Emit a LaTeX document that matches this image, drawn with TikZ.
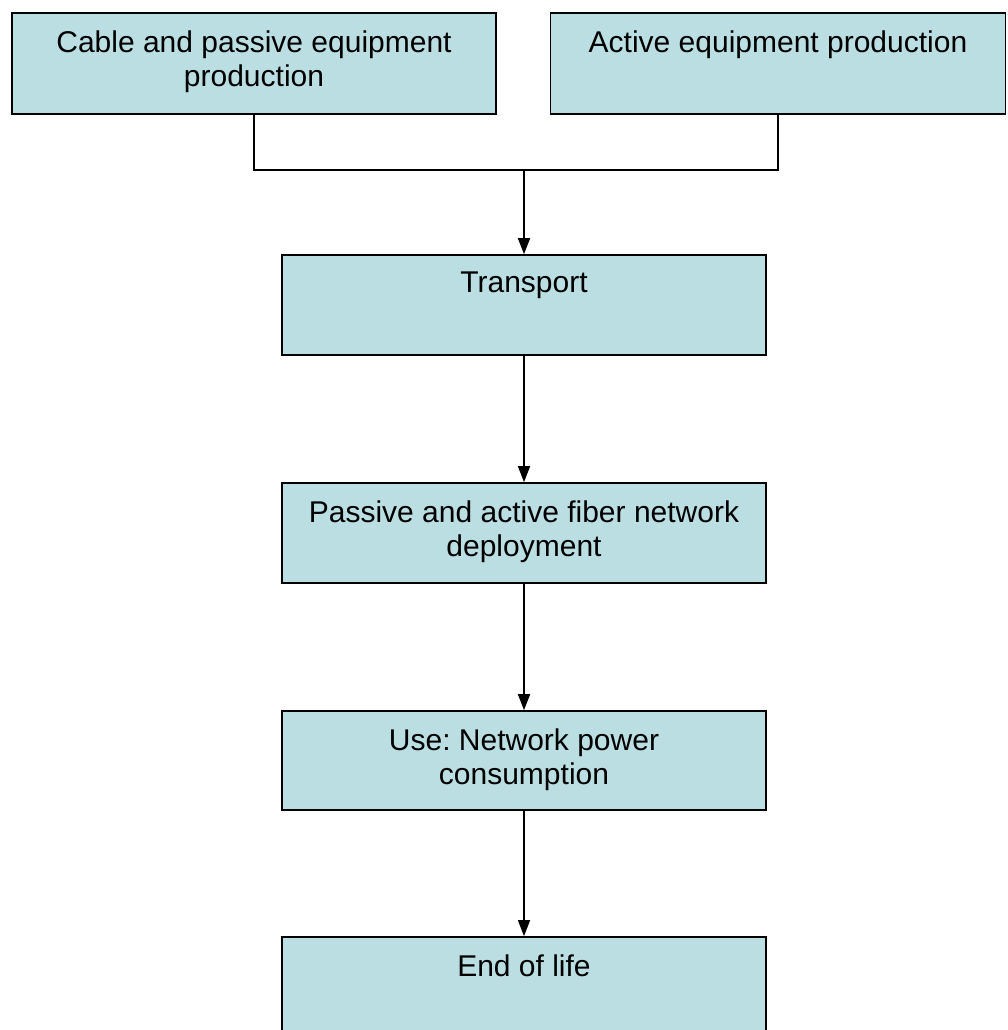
\documentclass[tikz,border=0pt]{standalone}
\usepackage{fontspec}
\setmainfont{Liberation Sans}
\usetikzlibrary{arrows.meta}
\definecolor{boxfill}{RGB}{187,222,227}
\frenchspacing
\begin{document}
\begin{tikzpicture}[x=1pt,y=-1pt,
  procbox/.style={draw=black, line width=1.7pt, fill=boxfill, rectangle, inner sep=0pt},
  boxtext/.style={anchor=north, inner sep=0pt, align=center, font=\fontsize{30}{34.5}\selectfont},
  conn/.style={line width=1.6pt, draw=black},
  arr/.style={conn, -{Triangle[length=16pt,width=12pt]}}]
\useasboundingbox (0,0) rectangle (1007,1030);
% boxes
\node[procbox, minimum width=484pt, minimum height=101pt] (cab) at (254,63.5) {};
\node[procbox, minimum width=455pt, minimum height=101pt] (act) at (778,63.5) {};
\node[procbox, minimum width=484pt, minimum height=100pt] (tra) at (524,305) {};
\node[procbox, minimum width=484pt, minimum height=100pt] (dep) at (524,533) {};
\node[procbox, minimum width=484pt, minimum height=99pt] (use) at (524,760.5) {};
\node[procbox, minimum width=484pt, minimum height=110pt] (eol) at (524,992) {};
% texts
\node[boxtext] (cabt) at ([yshift=-18pt]cab.north) {Cable and passive equipment\\production};
\node[boxtext] (actt) at ([yshift=-18pt]act.north) {Active equipment production};
\node[boxtext] (trat) at ([yshift=-18pt]tra.north) {Transport};
\node[boxtext] (dept) at ([yshift=-18pt]dep.north) {Passive and active fiber network\\deployment};
\node[boxtext] (uset) at ([yshift=-18pt]use.north) {Use: Network power\\consumption};
\node[boxtext] (eolt) at ([yshift=-18pt]eol.north) {End of life};
% connectors
\coordinate (jl) at (254,170);
\coordinate (jr) at (778,170);
\coordinate (jm) at (524,170);
\draw[conn] (cab.south) -- (jl) -- (jr) -- (act.south);
\draw[arr] (jm) -- (tra.north);
\draw[arr] (tra.south) -- (dep.north);
\draw[arr] (dep.south) -- (use.north);
\draw[arr] (use.south) -- (eol.north);
\end{tikzpicture}
\end{document}
